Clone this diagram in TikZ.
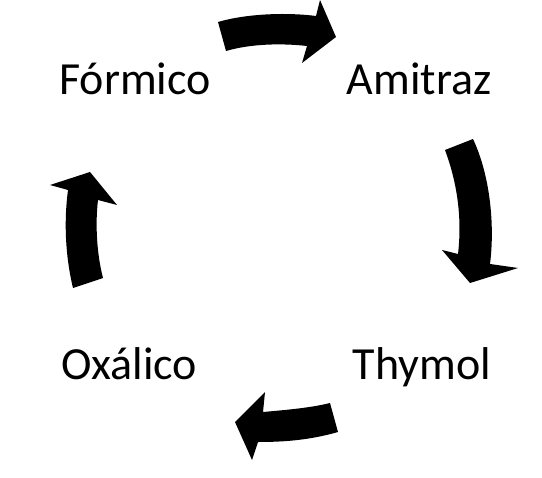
\documentclass[tikz,border=0pt]{standalone}
\usepackage{fontspec}
\setmainfont{Carlito}
\begin{document}
\begin{tikzpicture}[x=1bp,y=-1bp,
  lbl/.style={anchor=base,inner sep=0pt,font=\fontsize{46bp}{54bp}\selectfont},
  blockarrow/.style={fill=black,draw=none}]
\useasboundingbox (0,0) rectangle (542,478);
\node[lbl] (formico) at (135,95) {Fórmico};
\node[lbl] (amitraz) at (419,95) {Amitraz};
\node[lbl] (thymol) at (422,379) {Thymol};
\node[lbl] (oxalico) at (129,379) {Oxálico};
% top arrow
\fill[blockarrow] (218,22) .. controls (245,14) and (285,12) .. (316,16) -- (320,0) -- (336,37) -- (302,63) -- (307,46) .. controls (280,43) and (250,44) .. (226,51) -- cycle;
% right arrow
\fill[blockarrow] (445,150) -- (473,139) .. controls (490,175) and (495,225) .. (490,264) -- (518,268) -- (470,283) -- (442,250) -- (458,254) .. controls (462,220) and (458,185) .. (445,150) -- cycle;
% bottom arrow
\fill[blockarrow] (330,403) -- (338,432) .. controls (310,440) and (285,442) .. (258,442) -- (252,460) -- (235,422) -- (265,392) -- (263,412) .. controls (285,410) and (310,408) .. (330,403) -- cycle;
% left arrow
\fill[blockarrow] (73,288) .. controls (65,255) and (64,220) .. (68,190) -- (50,185) -- (90,172) -- (117,205) -- (98,200) .. controls (95,225) and (97,255) .. (103,278) -- cycle;
\end{tikzpicture}
\end{document}
